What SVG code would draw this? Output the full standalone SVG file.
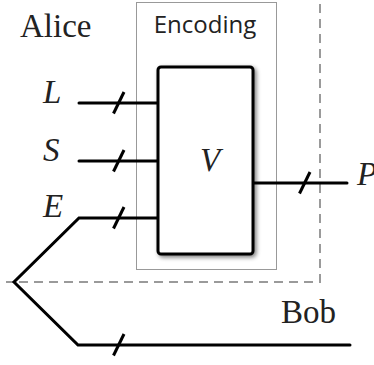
<svg xmlns="http://www.w3.org/2000/svg" width="374" height="365" viewBox="0 0 374 365">
<defs>
<filter id="sh" x="-20%" y="-20%" width="140%" height="140%">
<feGaussianBlur in="SourceAlpha" stdDeviation="2"/>
<feOffset dx="2" dy="2" result="b"/>
<feComponentTransfer><feFuncA type="linear" slope="0.5"/></feComponentTransfer>
<feMerge><feMergeNode/><feMergeNode in="SourceGraphic"/></feMerge>
</filter>
<style>
.serif{font-family:"Liberation Serif","Times New Roman",serif;font-size:33px;fill:#222}
.it{font-style:italic}
.sans{font-family:"Open Sans","Liberation Sans",sans-serif;font-size:24px;fill:#222}
.w{stroke:#000;stroke-width:3;fill:none;stroke-linecap:round;stroke-linejoin:miter}
.sl{stroke:#000;stroke-width:3;fill:none}
.dash{stroke:#9a9a9a;stroke-width:2;fill:none;stroke-dasharray:9 6}
</style>
</defs>
<rect width="374" height="365" fill="#fff"/>
<g id="boundary">
<path class="dash" d="M320,4 V282 H6"/>
<text class="serif" x="20" y="37">Alice</text>
<text class="serif" x="281" y="323">Bob</text>
</g>
<g id="encoding">
<rect x="136.5" y="2.5" width="140" height="267" fill="none" stroke="#999" stroke-width="1"/>
<text class="sans" x="205" y="33" text-anchor="middle">Encoding</text>
</g>
<g id="connectors">
<path class="w" d="M79,103 H158"/>
<path class="w" d="M79,161 H158"/>
<path class="w" d="M158,218 H79 L14,282 L78,345 H350"/>
<path class="w" d="M253,183 H347"/>
<path class="sl" d="M113.5,113.5 L124,92"/>
<path class="sl" d="M113.5,171.5 L124,150"/>
<path class="sl" d="M113.5,228.5 L124,207"/>
<path class="sl" d="M299.5,193.5 L310,172"/>
<path class="sl" d="M113.5,355.5 L124,334"/>
</g>
<g id="V">
<rect x="158" y="67" width="95" height="187" rx="3" fill="#fff" stroke="#000" stroke-width="3" filter="url(#sh)"/>
<text class="serif it" x="210" y="171" text-anchor="middle">V</text>
</g>
<g id="labels">
<text class="serif it" x="43" y="103">L</text>
<text class="serif it" x="43" y="161">S</text>
<text class="serif it" x="43" y="217">E</text>
<text class="serif it" x="357" y="185">P</text>
</g>
</svg>
